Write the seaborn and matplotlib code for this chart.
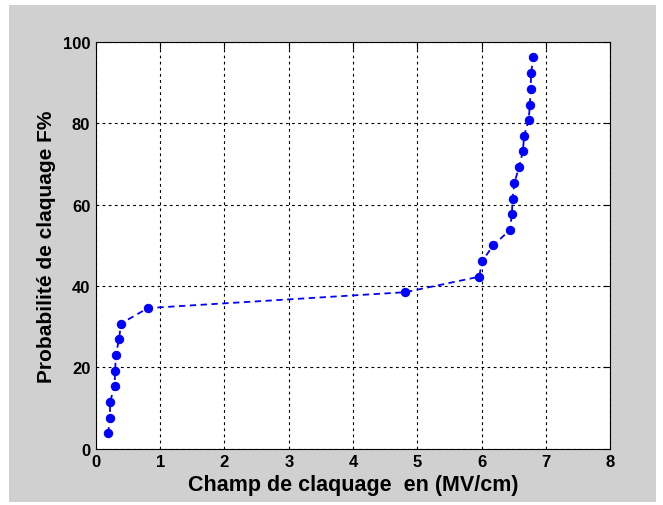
import matplotlib
matplotlib.use("Agg")
import matplotlib.pyplot as plt
import seaborn as sns
import pandas as pd
from matplotlib.patches import Rectangle

# Breakdown field (MV/cm) and cumulative breakdown probability (%)
champ = [0.19, 0.22, 0.22, 0.29, 0.30, 0.31, 0.36, 0.39, 0.81, 4.81,
         5.96, 6.01, 6.18, 6.44, 6.47, 6.48, 6.51, 6.58, 6.64, 6.66,
         6.73, 6.75, 6.76, 6.77, 6.80]
proba = [3.8, 7.7, 11.5, 15.4, 19.2, 23.1, 26.9, 30.8, 34.6, 38.5,
         42.3, 46.2, 50.0, 53.8, 57.7, 61.5, 65.4, 69.2, 73.1, 76.9,
         80.8, 84.6, 88.5, 92.3, 96.2]
x_ticks = [0, 1, 2, 3, 4, 5, 6, 7, 8]
y_ticks = [0, 20, 40, 60, 80, 100]

df = pd.DataFrame({"champ": champ, "proba": proba})

sns.set_style("white")
plt.rcParams["font.family"] = ["Liberation Sans", "DejaVu Sans"]
plt.rcParams["font.weight"] = "bold"
plt.rcParams["text.color"] = "black"
plt.rcParams["axes.labelcolor"] = "black"
plt.rcParams["xtick.color"] = "black"
plt.rcParams["ytick.color"] = "black"

fig = plt.figure(figsize=(6.63, 5.06), dpi=100, facecolor="white")
fig.patches.append(Rectangle((9 / 663, 3 / 506), 647 / 663, 497 / 506,
                             transform=fig.transFigure, facecolor="#d0d0d0",
                             edgecolor="none", zorder=-10))
ax = fig.add_axes([0.1446, 0.1109, 0.7759, 0.8043])
ax.set_facecolor("white")

# every measured point is drawn as-is (no aggregation of equal x values)
sns.lineplot(data=df, x="champ", y="proba", sort=False, estimator=None,
             errorbar=None, ax=ax,
             color="#0000ff", linestyle=(0, (3.5, 2.5)), linewidth=1.3,
             marker="o", markersize=6, markeredgecolor="#0000ff",
             markerfacecolor="#0000ff")

ax.set_xlim(0, 8)
ax.set_ylim(0, 100)
ax.set_xticks(x_ticks)
ax.set_yticks(y_ticks)
ax.set_xticklabels([str(v) for v in x_ticks], fontsize=12, fontweight="bold")
ax.set_yticklabels([str(v) for v in y_ticks], fontsize=12, fontweight="bold")
ax.tick_params(direction="in", length=5, width=0.8, colors="black",
               top=True, right=True, pad=4)
ax.grid(True, color="black", linestyle=(0, (2.5, 3)), linewidth=0.8)
for s in ax.spines.values():
    s.set_visible(True)
    s.set_color("black")
    s.set_linewidth(0.8)

ax.set_xlabel("Champ de claquage  en (MV/cm)", fontsize=15.5, fontweight="bold",
              labelpad=3)
ax.set_ylabel("Probabilité de claquage F%", fontsize=15, fontweight="bold",
              labelpad=5)

fig.savefig("out.png", dpi=100, facecolor=fig.get_facecolor())
